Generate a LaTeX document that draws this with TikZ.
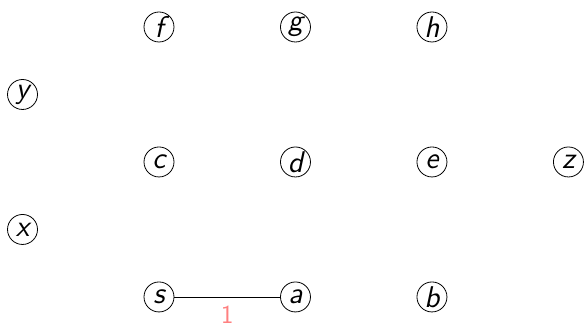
\documentclass[tikz,border=0pt]{standalone}
\tikzset{
    vertex/.style={circle, draw, thin, inner sep=0pt, minimum size=15pt,
        font=\fontsize{15}{17}\selectfont\sffamily\itshape},
    weight/.style={font=\fontsize{13}{15}\selectfont\sffamily, text=red!50}
}
\begin{document}
\begin{tikzpicture}[x=68.25pt, y=33.75pt]
    \useasboundingbox (-1.165,-0.43) rectangle (3.114,4.4);

    % bottom row
    \node[vertex] (s) at (0,0) {s};
    \node[vertex] (a) at (1,0) {a};
    \node[vertex] (b) at (2,0) {b};

    \node[vertex] (x) at (-1,1) {x};

    % middle row
    \node[vertex] (c) at (0,2) {c};
    \node[vertex] (d) at (1,2) {d};
    \node[vertex] (e) at (2,2) {e};
    \node[vertex] (z) at (3,2) {z};

    \node[vertex] (y) at (-1,3) {y};

    % top row
    \node[vertex] (f) at (0,4) {f};
    \node[vertex] (g) at (1,4) {g};
    \node[vertex] (h) at (2,4) {h};

    \draw[thin] (s) -- node[weight, below=1pt] {1} (a);

\end{tikzpicture}
\end{document}
